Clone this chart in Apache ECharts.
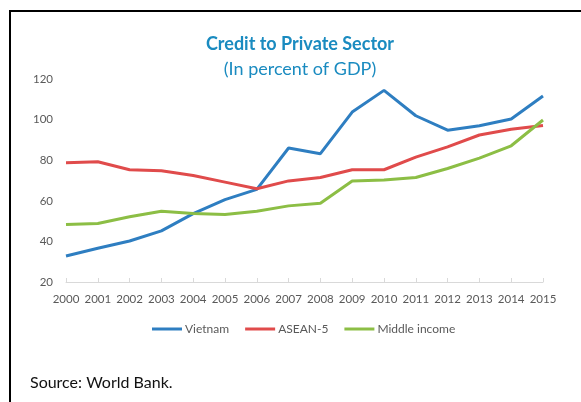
<!DOCTYPE html>
<html><head><meta charset="utf-8">
<script src="https://cdn.jsdelivr.net/npm/echarts@6/dist/echarts.min.js"></script>
<style>html,body{margin:0;padding:0;background:#fff}#c{width:581px;height:402px}</style>
</head><body><div id="c"></div>
<script>
var years = ['2000','2001','2002','2003','2004','2005','2006','2007','2008','2009','2010','2011','2012','2013','2014','2015'];
var vietnam = [32.8,36.6,40.2,45.2,53.7,60.6,65.6,86.0,83.2,103.7,114.4,101.9,94.8,97.0,100.3,111.6];
var asean5 = [78.7,79.2,75.3,74.8,72.5,69.2,65.9,69.8,71.5,75.3,75.3,81.5,86.6,92.4,95.2,97.1];
var middleIncome = [48.3,48.8,52.1,54.9,53.7,53.2,54.9,57.5,58.8,69.8,70.3,71.5,75.9,81.0,87.1,99.8];
var yTicks = [20,40,60,80,100,120];

var chart = echarts.init(document.getElementById('c'), null, {renderer:'canvas'});
var font = 'Lato, "Open Sans", sans-serif';
function mk(name, data, color){
  return {name:name, type:'line', data:data, symbol:'none', smooth:false,
    lineStyle:{color:color, width:3}, itemStyle:{color:color}};
}
chart.setOption({
  animation:false,
  graphic:[
    {type:'rect', shape:{x:10,y:11,width:700,height:500}, style:{fill:'none', stroke:'#000', lineWidth:2}},
    {type:'text', x:300, y:44, style:{text:'Credit to Private Sector', font:'bold 18px '+font, fill:'#1A8BC0', textAlign:'center', textVerticalAlign:'middle'}},
    {type:'text', x:300, y:69, style:{text:'(In percent of GDP)', font:'18px '+font, fill:'#1A8BC0', textAlign:'center', textVerticalAlign:'middle'}},
    {type:'text', x:30, y:383, style:{text:'Source: World Bank.', font:'16px '+font, fill:'#111', textVerticalAlign:'middle'}}
  ],
  grid:{left:66, right:38, top:79, bottom:120},
  legend:{bottom:62, left:147, itemWidth:30, itemHeight:3, itemGap:16, icon:'rect',
    textStyle:{color:'#595959', fontSize:12, fontFamily:font, padding:[0,0,0,-2]}},
  xAxis:{type:'category', data:years, boundaryGap:false,
    axisLine:{lineStyle:{color:'#D9D9D9', width:1}},
    axisTick:{inside:true, length:4, interval:0, lineStyle:{color:'#D9D9D9'}},
    axisLabel:{color:'#595959', fontSize:11.5, fontFamily:font, margin:11, interval:0}},
  yAxis:{type:'value', min:20, max:120, interval:20,
    axisLine:{show:false}, axisTick:{show:false}, splitLine:{show:false},
    axisLabel:{color:'#595959', fontSize:11.5, fontFamily:font, margin:13,
      formatter:function(v){return yTicks.indexOf(v)>=0?String(v):'';}}},
  series:[mk('Vietnam', vietnam, '#2E7EC1'), mk('ASEAN-5', asean5, '#E04B4B'), mk('Middle income', middleIncome, '#8CBE45')]
});
</script></body></html>
